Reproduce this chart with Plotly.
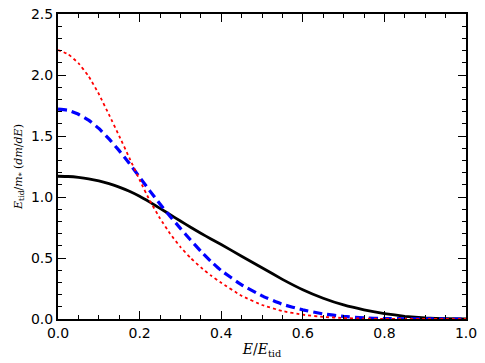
import plotly.graph_objects as go

x_vals = [0.0, 0.025, 0.05, 0.075, 0.1, 0.125, 0.15, 0.175, 0.2, 0.225, 0.25, 0.275,
          0.3, 0.325, 0.35, 0.375, 0.4, 0.45, 0.5, 0.55, 0.6, 0.65, 0.7, 0.75, 0.8, 0.85, 0.9, 0.95, 1.0]
black_solid = [1.17, 1.168, 1.161, 1.149, 1.132, 1.109, 1.081, 1.047, 1.006, 0.958, 0.907, 0.855,
               0.803, 0.752, 0.703, 0.656, 0.61, 0.515, 0.42, 0.325, 0.24, 0.17, 0.115, 0.075, 0.045, 0.022, 0.008, 0.002, 0.0]
blue_dashed = [1.72, 1.71, 1.678, 1.63, 1.562, 1.476, 1.38, 1.275, 1.163, 1.05, 0.942, 0.84,
               0.743, 0.647, 0.556, 0.472, 0.397, 0.28, 0.19, 0.12, 0.075, 0.042, 0.021, 0.009, 0.004, 0.002, 0.001, 0.0, 0.0]
red_dotted = [2.205, 2.17, 2.098, 1.99, 1.845, 1.675, 1.50, 1.32, 1.14, 0.97, 0.825, 0.698,
              0.59, 0.50, 0.423, 0.356, 0.297, 0.19, 0.115, 0.065, 0.035, 0.017, 0.008, 0.003, 0.001, 0.0, 0.0, 0.0, 0.0]

fig = go.Figure()
fig.add_trace(go.Scatter(x=x_vals, y=black_solid, mode="lines",
                         line=dict(color="black", width=2.8, shape="spline", smoothing=0.3)))
fig.add_trace(go.Scatter(x=x_vals, y=blue_dashed, mode="lines",
                         line=dict(color="blue", width=3.2, dash="9px,5px", shape="spline", smoothing=0.3)))
fig.add_trace(go.Scatter(x=x_vals, y=red_dotted, mode="lines",
                         line=dict(color="red", width=1.8, dash="dot", shape="spline", smoothing=0.3)))

fig.update_xaxes(range=[0, 1], tickmode="linear", tick0=0, dtick=0.2, tickformat=".1f",
                 showgrid=False, zeroline=False, showline=True, linecolor="#000000", linewidth=2,
                 mirror="ticks", ticks="inside", ticklen=8, tickwidth=1.3, tickcolor="#000000",
                 tickfont=dict(family="DejaVu Sans", size=14, color="black"), automargin=False,
                 minor=dict(ticks="inside", dtick=0.05, ticklen=4, tickcolor="#000000", tickwidth=1.3),
                 title=dict(text="<i>E</i>/<i>E</i><sub>tid</sub>",
                            font=dict(family="DejaVu Serif", size=14, color="black"), standoff=4))
fig.update_yaxes(range=[0, 2.5], tickmode="linear", tick0=0, dtick=0.5, tickformat=".1f",
                 showgrid=False, zeroline=False, showline=True, linecolor="#000000", linewidth=2,
                 mirror="ticks", ticks="inside", ticklen=8, tickwidth=1.3, tickcolor="#000000",
                 tickfont=dict(family="DejaVu Sans", size=14, color="black"), automargin=False,
                 minor=dict(ticks="inside", dtick=0.1, ticklen=4, tickcolor="#000000", tickwidth=1.3),
                 title=dict(text="<i>E</i><sub>tid</sub>/<i>m</i><sub>*</sub> (<i>dm</i>/<i>dE</i>)",
                            font=dict(family="DejaVu Serif", size=11, color="black"), standoff=6))

fig.update_layout(
    width=485, height=363,
    margin=dict(l=58, r=19, t=14, b=44),
    paper_bgcolor="white", plot_bgcolor="white",
    showlegend=False,
)

fig.write_html("out.html", config={"displayModeBar": False},
               post_script="document.body.style.margin='0px';document.body.style.overflow='hidden';")
